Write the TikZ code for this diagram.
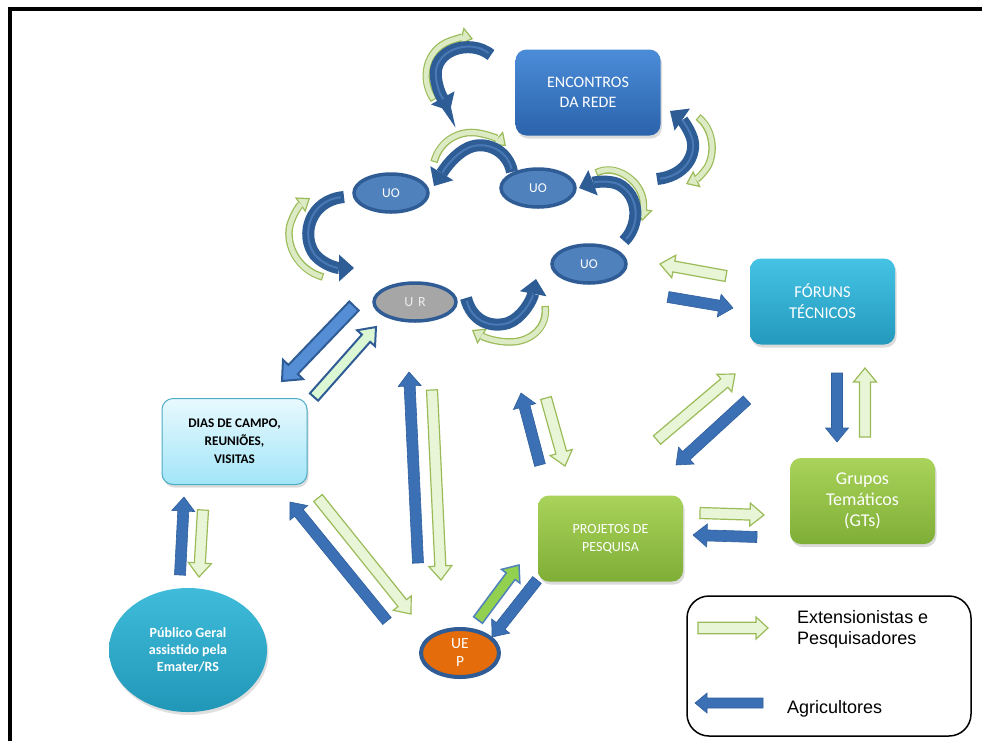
\documentclass[tikz,border=0pt]{standalone}
\usepackage{fontspec}
\setmainfont{Carlito}
\newfontfamily\arialf{Liberation Sans}
\usetikzlibrary{calc,arrows.meta,shadows,shapes.geometric}
\definecolor{encA}{HTML}{4B8CD8}
\definecolor{encB}{HTML}{2B63AC}
\definecolor{forA}{HTML}{45C3E4}
\definecolor{forB}{HTML}{2399BD}
\definecolor{grnA}{HTML}{A9D35A}
\definecolor{grnB}{HTML}{7FAE36}
\definecolor{diaA}{HTML}{E8F9FE}
\definecolor{diaB}{HTML}{A2E5F8}
\definecolor{diaE}{HTML}{4BACC6}
\definecolor{pubA}{HTML}{40BCDA}
\definecolor{pubB}{HTML}{2197B8}
\definecolor{uoF}{HTML}{4F81BD}
\definecolor{uoE}{HTML}{2F5C95}
\definecolor{urF}{HTML}{A6A6A6}
\definecolor{urT}{HTML}{EDEDED}
\definecolor{uepF}{HTML}{E46C0A}
\definecolor{ablue}{HTML}{3C70B4}
\definecolor{abluedk}{HTML}{2F5E9C}
\definecolor{abluelt}{HTML}{558ED5}
\definecolor{agreen}{HTML}{9BBB59}
\definecolor{agreenlt}{HTML}{E8F5D6}
\definecolor{amint}{HTML}{DCF7D4}
\definecolor{asolid}{HTML}{92D050}
\definecolor{cblue}{HTML}{2E5D96}
\definecolor{cbluehl}{HTML}{5A8CCB}
\definecolor{cgreen}{HTML}{9BBB59}
\definecolor{cgreenlt}{HTML}{DCEBC4}
\tikzset{
  rbox/.style={rounded corners=11pt, minimum width=145pt, minimum height=86pt, align=center, inner sep=2pt,
    drop shadow={opacity=0.28, shadow xshift=1.5pt, shadow yshift=-3pt}},
  uo/.style={ellipse, draw=uoE, line width=3.5pt, fill=uoF, minimum width=74pt, minimum height=38pt,
    inner sep=0pt, text=white, font=\fontsize{13.5}{15}\selectfont},
  bluearr/.style={fill=ablue, draw=abluedk, line width=0.6pt},
  greenarr/.style={fill=agreenlt, draw=agreen, line width=1.2pt},
  mintarr/.style={fill=amint, draw=uoE, line width=2pt},
  bluebord/.style={fill=abluelt, draw=uoE, line width=2pt},
  solidgreen/.style={fill=asolid, draw=uoF, line width=1.5pt},
  cbluestroke/.style={draw=cblue, line width=12pt, -{Triangle[width=27pt,length=15pt,line width=0pt]}},
  cbluehl/.style={draw=cbluehl, line width=2pt, opacity=0.6, shorten >=16pt, shorten <=3pt},
  cgreenstroke/.style={draw=cgreen, line width=7.5pt, -{Triangle[width=18pt,length=12pt,line width=1.2pt,fill=cgreenlt]}},
  cgreenin/.style={draw=cgreenlt, line width=5pt, shorten >=11pt, shorten <=1.2pt},
}
% block arrow: style, from, to, shaft half width, head half width, head length
\newcommand\barr[6]{%
  \coordinate (tmpn) at ($(#3)!#6!(#2)$);
  \filldraw[#1] ($(#2)!#4!90:(#3)$) -- ($(tmpn)!#4!-90:(#2)$) -- ($(tmpn)!#5!-90:(#2)$) -- (#3)
     -- ($(tmpn)!#5!90:(#2)$) -- ($(tmpn)!#4!90:(#2)$) -- ($(#2)!#4!-90:(#3)$) -- cycle;}
\newcommand\sarr[3]{\barr{#1}{#2}{#3}{5.5pt}{11.5pt}{14pt}}
\newcommand\cbarrow[1]{\draw[cbluestroke] #1; \draw[cbluehl] #1;}
\newcommand\cgarrow[1]{\draw[cgreenstroke] #1; \draw[cgreenin] #1;}
\begin{document}
\begin{tikzpicture}[x=1pt,y=-1pt]
\useasboundingbox (0,0) rectangle (982,740);
\fill[white] (0,0) rectangle (982,740);
% frame
\draw[line width=4.5pt] (10,742) -- (10,9) -- (984,9);

% nodes
\node[rbox, top color=encA, bottom color=encB, text=white, font=\fontsize{16}{20}\selectfont] (enc) at (588,92.5) {ENCONTROS\\DA REDE};
\node[rbox, top color=forA, bottom color=forB, text=white, font=\fontsize{16.5}{21}\selectfont] (for) at (822.5,301.5) {FÓRUNS\\TÉCNICOS};
\node[rbox, top color=grnA, bottom color=grnB, text=white, font=\fontsize{18}{21}\selectfont] (gts) at (862.5,501) {Grupos\\Temáticos\\(GTs)};
\node[rbox, top color=grnA, bottom color=grnB, text=white, font=\fontsize{14}{18}\selectfont] (proj) at (610.5,538.5) {PROJETOS DE\\PESQUISA};
\node[rbox, top color=diaA, bottom color=diaB, draw=diaE, line width=1pt, text=black, font=\bfseries\fontsize{13.2}{18}\selectfont] (dias) at (234.5,441.5) {DIAS DE CAMPO,\\REUNIÕES,\\VISITAS};
\node[ellipse, top color=pubA, bottom color=pubB, minimum width=158pt, minimum height=124pt, align=center, text=white,
  font=\bfseries\fontsize{14}{17}\selectfont, drop shadow={opacity=0.25, shadow xshift=1.5pt, shadow yshift=-3pt}] (pub) at (188,650) {Público Geral\\assistido pela\\Emater/RS};
\node[ellipse, fill=uepF, draw=uoE, line width=4pt, minimum width=78pt, minimum height=48pt, inner sep=0pt, align=center,
  text=white, font=\fontsize{15.5}{18}\selectfont] (uep) at (460,653) {UE\\P};
\node[uo] (uo1) at (391,193) {UO};
\node[uo] (uo2) at (538,188) {UO};
\node[uo] (uo3) at (589,264) {UO};
\node[uo, fill=urF, minimum width=82pt, text=urT, font=\fontsize{14}{15}\selectfont] (ur) at (415,302) {U\,\,R};

% legend
\node[draw, line width=1.5pt, rounded corners=22pt, minimum width=284pt, minimum height=140pt] (legend) at (829,666) {};
\node[anchor=west, inner sep=0pt, align=left, font=\arialf\fontsize{18}{21}\selectfont] (legg) at (797,629) {Extensionistas e\\Pesquisadores};
\node[anchor=base west, inner sep=0pt, font=\arialf\fontsize{18}{21}\selectfont] (legb) at (787,713) {Agricultores};

% straight arrow endpoints
\coordinate (a1s) at (354,306); \coordinate (a1e) at (282,381);
\coordinate (a2s) at (314,397); \coordinate (a2e) at (376,327);
\coordinate (a3s) at (418,563); \coordinate (a3e) at (409,372);
\coordinate (a4s) at (432,390); \coordinate (a4e) at (441,580);
\coordinate (a5s) at (387,621); \coordinate (a5e) at (290,502);
\coordinate (a6s) at (318,498); \coordinate (a6e) at (411,614);
\coordinate (a7s) at (180,575); \coordinate (a7e) at (184,497);
\coordinate (a8s) at (203,510); \coordinate (a8e) at (199,577);
\coordinate (a9s) at (478,620); \coordinate (a9e) at (519,565);
\coordinate (a10s) at (537,580); \coordinate (a10e) at (492,637);
\coordinate (a11s) at (540,465); \coordinate (a11e) at (521,393);
\coordinate (a12s) at (546,398); \coordinate (a12e) at (565,466);
\coordinate (a13s) at (657,440); \coordinate (a13e) at (735,374);
\coordinate (a14s) at (747,400); \coordinate (a14e) at (676,465);
\coordinate (a15s) at (837,373); \coordinate (a15e) at (837,442);
\coordinate (a16s) at (865,437); \coordinate (a16e) at (865,368);
\coordinate (a17s) at (700,513); \coordinate (a17e) at (764,515);
\coordinate (a18s) at (757,537); \coordinate (a18e) at (693,535);
\coordinate (a19s) at (726,276); \coordinate (a19e) at (660,264);
\coordinate (a20s) at (668,297); \coordinate (a20e) at (733,308);
\coordinate (lgs) at (698,628); \coordinate (lge) at (768,628);
\coordinate (lbs) at (763,703); \coordinate (lbe) at (695,703);

\barr{bluebord}{a1s}{a1e}{6.5pt}{14pt}{16pt}
\barr{mintarr}{a2s}{a2e}{5.5pt}{12pt}{15pt}
\sarr{bluearr}{a3s}{a3e}
\sarr{greenarr}{a4s}{a4e}
\sarr{bluearr}{a5s}{a5e}
\sarr{greenarr}{a6s}{a6e}
\sarr{bluearr}{a7s}{a7e}
\sarr{greenarr}{a8s}{a8e}
\sarr{solidgreen}{a9s}{a9e}
\sarr{bluearr}{a10s}{a10e}
\sarr{bluearr}{a11s}{a11e}
\sarr{greenarr}{a12s}{a12e}
\sarr{greenarr}{a13s}{a13e}
\sarr{bluearr}{a14s}{a14e}
\sarr{bluearr}{a15s}{a15e}
\sarr{greenarr}{a16s}{a16e}
\sarr{greenarr}{a17s}{a17e}
\sarr{bluearr}{a18s}{a18e}
\sarr{greenarr}{a19s}{a19e}
\sarr{bluearr}{a20s}{a20e}
\barr{greenarr}{lgs}{lge}{5.8pt}{11pt}{12pt}
\barr{bluearr}{lbs}{lbe}{5pt}{10pt}{12pt}

% curved arrows (green outside, blue inside)
\cgarrow{(434,100) .. controls (420,80) and (425,50) .. (450,41) .. controls (458,38) and (465,37) .. (473,39)}
\cbarrow{(491,55) .. controls (470,38) and (432,50) .. (436,78) .. controls (438,94) and (445,102) .. (450,111)}

\cgarrow{(698,117) .. controls (712,128) and (716,150) .. (708,166) .. controls (703,174) and (697,179) .. (686,184)}
\cbarrow{(657,179) .. controls (685,176) and (697,155) .. (692,138) .. controls (688,126) and (680,118) .. (670,111)}

\cgarrow{(434,162) .. controls (440,140) and (460,130) .. (478,133) .. controls (490,135) and (498,139) .. (506,146)}
\cbarrow{(512,172) .. controls (508,150) and (485,140) .. (468,148) .. controls (455,154) and (445,168) .. (434,186)}

\cgarrow{(596,173) .. controls (615,163) and (640,180) .. (643,200) .. controls (644,208) and (643,214) .. (642,221)}
\cbarrow{(624,241) .. controls (640,225) and (640,195) .. (618,184) .. controls (608,180) and (595,182) .. (579,188)}

\cgarrow{(323,277) .. controls (298,270) and (285,245) .. (290,225) .. controls (294,212) and (300,205) .. (310,198)}
\cbarrow{(344,197) .. controls (310,200) and (300,235) .. (315,255) .. controls (325,266) and (338,268) .. (354,268)}

\cgarrow{(545,306) .. controls (548,328) and (530,342) .. (510,342) .. controls (497,342) and (485,338) .. (472,330)}
\cbarrow{(466,298) .. controls (472,322) and (492,328) .. (508,323) .. controls (522,318) and (532,300) .. (536,279)}
\end{tikzpicture}
\end{document}
